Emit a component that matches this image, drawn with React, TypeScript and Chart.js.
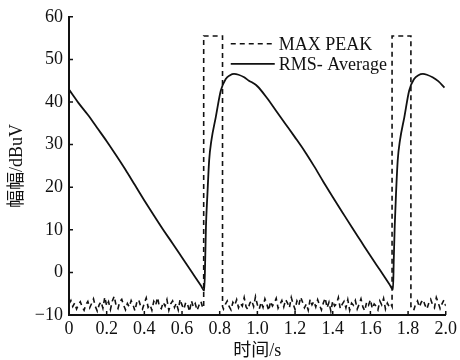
import React, { useEffect, useRef } from "react";
import { Chart, registerables } from "chart.js";

Chart.register(...registerables);

// ---- data ----
const yAxisTitle = "幅幅/dBuV";
const xAxisTitle = "时间/s";
const seriesNames = ["MAX PEAK", "RMS- Average"];

const rmsTime = [
  0, 0.05, 0.1, 0.15, 0.2, 0.25, 0.3, 0.35, 0.4, 0.45, 0.5, 0.55, 0.6, 0.65, 0.7, 0.718,
  0.723, 0.727, 0.735, 0.744, 0.756, 0.779, 0.806, 0.832, 0.855, 0.876, 0.9, 0.93, 0.955, 0.975, 1.0,
  1.05, 1.1, 1.15, 1.2, 1.25, 1.3, 1.35, 1.4, 1.45, 1.5, 1.55, 1.6, 1.65, 1.7, 1.72,
  1.724, 1.729, 1.736, 1.745, 1.757, 1.78, 1.806, 1.832, 1.855, 1.879, 1.9, 1.93, 1.96, 1.993,
];
const rmsValue = [
  42.9, 39.8, 37.0, 33.9, 30.8, 27.5, 24.1, 20.5, 16.9, 13.4, 10.0, 6.8, 3.5, 0.2, -3.1, -4.3,
  2.9, 10.7, 18.5, 26.3, 31.0, 36.4, 42.7, 45.4, 46.3, 46.6, 46.4, 45.8, 45.0, 44.5, 43.7,
  41.0, 37.9, 34.8, 31.7, 28.5, 25.0, 21.3, 17.7, 14.2, 10.7, 7.3, 3.9, 0.6, -2.7, -4.0,
  2.9, 10.7, 18.5, 26.3, 31.0, 36.4, 42.7, 45.4, 46.3, 46.6, 46.4, 45.8, 44.9, 43.4,
];

// MAX PEAK: pulse edges (s), pulse level and base level (dBuV)
const peakEdges = [0.715, 0.815, 1.715, 1.815];
const peakLevel = 55.5;
const peakBase = -8.0;
// noise floor segments sampled every 0.01 s
const noiseStarts = [0, 0.82, 1.82];
const noise1 = [
  -7.4, -6.6, -8.0, -7.2, -8.6, -7.6, -6.9, -8.1, -8.9, -7.5,
  -6.8, -8.3, -7.3, -6.2, -8.0, -9.1, -7.6, -6.9, -8.4, -5.8,
  -7.9, -6.9, -8.7, -6.7, -5.6, -7.8, -8.5, -6.8, -6.3, -7.7,
  -8.8, -7.3, -8.1, -6.6, -7.6, -9.0, -7.0, -6.4, -7.9, -8.6,
  -7.2, -6.0, -8.2, -7.6, -8.9, -6.8, -7.7, -5.9, -8.1, -8.5,
  -7.0, -7.9, -6.4, -8.9, -7.4, -6.7, -8.2, -7.2, -8.8, -6.3,
  -7.7, -8.6, -7.0, -7.6, -9.2, -6.7, -8.1, -7.3, -8.9, -7.7,
  -6.8, -8.4,
];
const noise2 = [
  -8.6, -7.5, -6.7, -8.0, -8.8, -7.0, -7.7, -6.4, -8.3, -7.3,
  -7.9, -5.9, -8.1, -8.7, -7.2, -6.6, -8.0, -5.7, -7.6, -8.6,
  -7.0, -8.2, -6.2, -7.4, -9.0, -6.8, -7.9, -7.2, -6.1, -8.4,
  -7.5, -6.6, -8.1, -6.4, -7.2, -8.3, -5.9, -7.4, -8.7, -6.7,
  -7.7, -5.8, -7.0, -8.3, -7.4, -8.9, -6.3, -7.6, -6.8, -8.1,
  -6.4, -7.7, -8.8, -7.2, -6.0, -8.3, -7.0, -9.1, -6.7, -7.9,
  -7.4, -5.9, -8.5, -7.5, -6.8, -8.3, -6.4, -8.9, -7.2, -7.7,
  -6.6, -8.6, -7.5, -6.2, -8.1, -9.0, -7.0, -7.7, -6.4, -8.5,
  -7.4, -7.9, -8.8, -6.7, -7.6, -6.1, -8.6, -7.2, -8.1, -7.5,
];
const noise3 = [
  -8.3, -8.9, -7.4, -6.7, -8.1, -7.0, -6.4, -7.7, -8.6, -7.2,
  -6.3, -7.6, -8.3, -5.9, -7.1, -8.5, -7.4, -6.5, -7.9,
];
const noiseStep = 0.01;

const xMin = 0, xMax = 2.0, xStep = 0.2;
const yMin = -10, yMax = 60, yStep = 10;

const FONT = '"Liberation Serif", "Noto Sans CJK SC", serif';
const INK = "#111";

function buildPeak() {
  const pts: { x: number; y: number }[] = [];
  const segs = [noise1, noise2, noise3];
  segs.forEach((seg, si) => {
    seg.forEach((v, i) => pts.push({ x: +(noiseStarts[si] + i * noiseStep).toFixed(3), y: v }));
    if (si < 2) {
      const a = peakEdges[si * 2], b = peakEdges[si * 2 + 1];
      pts.push({ x: a, y: peakBase }, { x: a, y: peakLevel }, { x: b, y: peakLevel }, { x: b, y: peakBase });
    }
  });
  return pts;
}

const inwardTicks = {
  id: "inwardTicks",
  afterDraw(chart: any) {
    const { ctx, chartArea, scales } = chart;
    ctx.save();
    ctx.strokeStyle = INK;
    ctx.lineWidth = 1.5;
    ctx.beginPath();
    scales.x.ticks.forEach((t: any) => {
      const px = scales.x.getPixelForValue(t.value);
      ctx.moveTo(px, chartArea.bottom);
      ctx.lineTo(px, chartArea.bottom - 4);
    });
    scales.y.ticks.forEach((t: any) => {
      const py = scales.y.getPixelForValue(t.value);
      ctx.moveTo(chartArea.left, py);
      ctx.lineTo(chartArea.left + 4, py);
    });
    ctx.stroke();
    ctx.restore();
  },
};

const customLegend = {
  id: "customLegend",
  afterDraw(chart: any) {
    const { ctx, chartArea } = chart;
    const x0 = chartArea.right - 215;
    const rows = [chartArea.top + 27, chartArea.top + 47];
    ctx.save();
    ctx.strokeStyle = INK;
    ctx.fillStyle = INK;
    ctx.font = `18px ${FONT}`;
    ctx.textBaseline = "middle";
    ctx.textAlign = "left";
    rows.forEach((y, i) => {
      ctx.lineWidth = i === 0 ? 1.6 : 1.8;
      ctx.setLineDash(i === 0 ? [5, 4] : []);
      ctx.beginPath();
      ctx.moveTo(x0, y);
      ctx.lineTo(x0 + 44, y);
      ctx.stroke();
      ctx.setLineDash([]);
      ctx.fillText(seriesNames[i], x0 + 48, y + 1);
    });
    ctx.restore();
  },
};

export default function App() {
  const ref = useRef<HTMLCanvasElement | null>(null);
  useEffect(() => {
    if (!ref.current) return;
    const chart = new Chart(ref.current, {
      type: "line",
      data: {
        datasets: [
          {
            label: seriesNames[0],
            data: buildPeak(),
            borderColor: INK,
            borderWidth: 1.6,
            borderDash: [5, 4],
            pointRadius: 0,
            tension: 0,
            fill: false,
          },
          {
            label: seriesNames[1],
            data: rmsTime.map((t, i) => ({ x: t, y: rmsValue[i] })),
            borderColor: INK,
            borderWidth: 1.8,
            pointRadius: 0,
            cubicInterpolationMode: "monotone",
            fill: false,
          },
        ],
      },
      options: {
        animation: false,
        responsive: false,
        devicePixelRatio: 1,
        layout: { padding: { top: 16, right: 12, left: 0, bottom: 0 } },
        plugins: { legend: { display: false }, tooltip: { enabled: false } },
        scales: {
          x: {
            type: "linear",
            min: xMin,
            max: xMax,
            afterFit: (s: any) => { s.height = 45; },
            grid: { display: false, drawTicks: false },
            border: { display: true, color: INK, width: 2 },
            ticks: {
              stepSize: xStep,
              color: INK,
              padding: 3,
              maxRotation: 0,
              font: { family: FONT, size: 18 },
              callback: (v: any) => (Number(v) === 0 ? "0" : Number(v).toFixed(1)),
            },
            title: {
              display: true,
              text: xAxisTitle,
              color: INK,
              font: { family: FONT, size: 18, lineHeight: 1 },
              padding: { top: 0, bottom: 0 },
            },
          },
          y: {
            type: "linear",
            min: yMin,
            max: yMax,
            afterFit: (s: any) => { s.width = 69; },
            grid: { display: false, drawTicks: false },
            border: { display: true, color: INK, width: 2 },
            ticks: {
              stepSize: yStep,
              color: INK,
              padding: 6,
              font: { family: FONT, size: 18 },
              callback: (v: any) => String(v).replace("-", "\u2212"),
            },
            title: {
              display: true,
              text: yAxisTitle,
              color: INK,
              font: { family: FONT, size: 18, lineHeight: 1 },
              padding: { top: 8, bottom: 0 },
            },
          },
        },
      },
      plugins: [inwardTicks, customLegend],
    });
    return () => chart.destroy();
  }, []);
  return (
    <div style={{ position: "absolute", left: 0, top: 0, width: 460, height: 360, background: "#fff" }}>
      <canvas ref={ref} width={460} height={360} />
    </div>
  );
}
